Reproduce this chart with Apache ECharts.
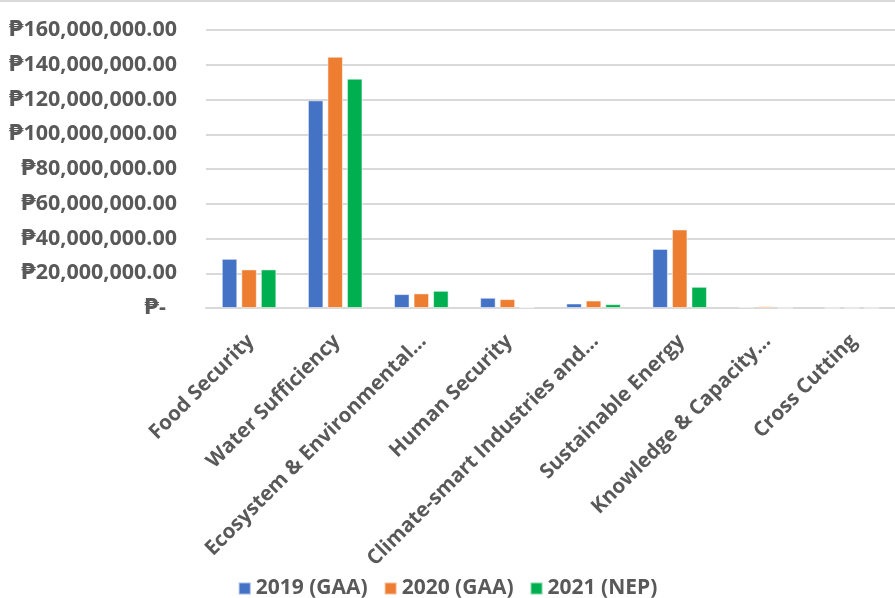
<!DOCTYPE html>
<html>
<head>
<meta charset="utf-8">
<script src="https://cdn.jsdelivr.net/npm/echarts@6/dist/echarts.min.js"></script>
<style>
html,body{margin:0;padding:0;background:#fff;}
#chart{width:895px;height:598px;}
</style>
</head>
<body>
<div id="chart"></div>
<script>
const categories = ['Food Security','Water Sufficiency','Ecosystem & Environmental…','Human Security','Climate-smart Industries and…','Sustainable Energy','Knowledge & Capacity…','Cross Cutting'];
const seriesNames = ['2019 (GAA)','2020 (GAA)','2021 (NEP)'];
const values2019 = [28300000, 119500000, 8000000, 5900000, 2600000, 34000000, 700000, 0];
const values2020 = [22200000, 144600000, 8400000, 5100000, 4300000, 45200000, 1000000, 0];
const values2021 = [22200000, 132000000, 9900000, 500000, 2200000, 12200000, 0, 0];
const yTicks = [0, 20000000, 40000000, 60000000, 80000000, 100000000, 120000000, 140000000, 160000000];
const titleText = 'Climate Change Expenditure by Strategic Priority, 2019-2021';

const colors = ['#4472C4', '#ED7D31', '#00B050'];
const textColor = '#595959';
const fontFamily = '"Open Sans", "DejaVu Sans", sans-serif';

function fmt(v) {
  if (v === 0) return '₱-  ';
  return '₱' + v.toLocaleString('en-US', {minimumFractionDigits: 2, maximumFractionDigits: 2});
}

const chart = echarts.init(document.getElementById('chart'), null, {renderer: 'canvas'});
const allValues = [values2019, values2020, values2021];
chart.setOption({
  animation: false,
  color: colors,
  title: {
    text: titleText,
    left: 'center',
    top: -24,
    padding: 0,
    z: 20,
    textStyle: {color: '#1F3864', fontSize: 20, fontWeight: 'bold', fontFamily: fontFamily, lineHeight: 24}
  },
  graphic: [{
    type: 'line', shape: {x1: 0, y1: 1, x2: 895, y2: 1},
    style: {stroke: '#D9D9D9', lineWidth: 2}, z: 0, zlevel: 0
  }],
  grid: {left: 206, right: -3, top: 30, bottom: 290, containLabel: false},
  legend: {
    data: seriesNames,
    bottom: -6,
    left: 'center',
    itemWidth: 12,
    itemHeight: 12,
    itemGap: 16,
    icon: 'rect',
    textStyle: {color: textColor, fontSize: 21, fontWeight: 'bold', fontFamily: fontFamily}
  },
  xAxis: {
    type: 'category',
    data: categories,
    axisTick: {show: false},
    axisLine: {lineStyle: {color: '#D9D9D9', width: 2}},
    axisLabel: {
      rotate: 45,
      interval: 0,
      margin: 17,
      color: textColor,
      fontSize: 20.5,
      fontWeight: 'bold',
      fontFamily: fontFamily,
      verticalAlign: 'top',
      padding: [0, 8, 0, 0]
    }
  },
  yAxis: {
    type: 'value',
    min: yTicks[0],
    max: yTicks[yTicks.length - 1],
    interval: yTicks[1] - yTicks[0],
    axisLine: {show: false},
    axisTick: {show: false},
    splitLine: {lineStyle: {color: '#D9D9D9', width: 2}},
    axisLabel: {
      margin: 29,
      color: textColor,
      fontSize: 21.5,
      fontWeight: 'bold',
      fontFamily: fontFamily,
      formatter: fmt
    }
  },
  series: seriesNames.map((n, i) => ({
    name: n,
    type: 'bar',
    data: allValues[i],
    barWidth: 15.5,
    barGap: '26%',
    itemStyle: {borderColor: 'rgba(255,255,255,0.5)', borderWidth: 1}
  }))
});
</script>
</body>
</html>
